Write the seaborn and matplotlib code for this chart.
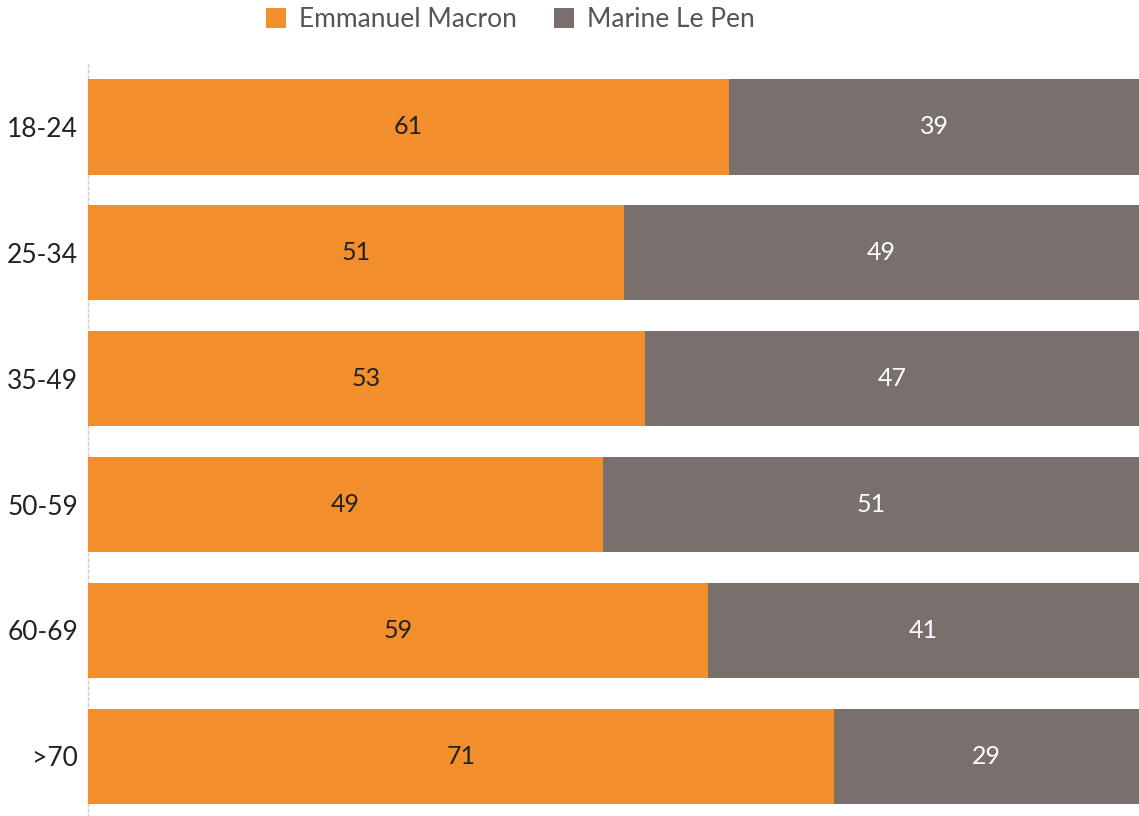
import matplotlib
matplotlib.use("Agg")
import matplotlib.pyplot as plt
import seaborn as sns
import pandas as pd
from matplotlib.patches import Patch

age_groups = ["18-24", "25-34", "35-49", "50-59", "60-69", ">70"]
macron = [61, 51, 53, 49, 59, 71]
le_pen = [39, 49, 47, 51, 41, 29]
series_names = ["Emmanuel Macron", "Marine Le Pen"]

ORANGE = "#F28E2B"
GRAY = "#79706E"

sns.set_theme(style="white")
plt.rcParams["font.family"] = ["Lato", "DejaVu Sans"]

df = pd.DataFrame({"age": age_groups, "macron": macron, "le_pen": le_pen})
df["total"] = df["macron"] + df["le_pen"]

fig = plt.figure(figsize=(11.39, 8.16), dpi=100)
ax = fig.add_axes([88 / 1139, -0.004, 1 - 88 / 1139, 1 - 64 / 816 + 0.004])

sns.barplot(data=df, y="age", x="total", color=GRAY, saturation=1,
            width=0.756, ax=ax, orient="h", linewidth=0, edgecolor="none")
sns.barplot(data=df, y="age", x="macron", color=ORANGE, saturation=1,
            width=0.756, ax=ax, orient="h", linewidth=0, edgecolor="none")

ax.bar_label(ax.containers[1], labels=[str(v) for v in macron],
             label_type="center", fontsize=18, color="#222222")
for i, (m, l) in enumerate(zip(macron, le_pen)):
    ax.text(m + l / 2, i, str(l), ha="center", va="center",
            fontsize=18, color="white")

ax.set_xlim(0, 100)
ax.set_ylim(5.5, -0.5)
ax.set_xlabel("")
ax.set_ylabel("")
ax.set_xticks([])
ax.tick_params(axis="y", labelsize=19, colors="#222222", length=0, pad=7)
for s in ["top", "right", "bottom"]:
    ax.spines[s].set_visible(False)
ax.spines["left"].set_color("#cccccc")
ax.spines["left"].set_linestyle((0, (2, 2)))
ax.spines["left"].set_linewidth(1)
ax.spines["left"].set_zorder(0)

handles = [Patch(facecolor=ORANGE, edgecolor="none"),
           Patch(facecolor=GRAY, edgecolor="none")]
fig.legend(handles, series_names, loc="center", bbox_to_anchor=(0.448, 0.976),
           ncol=2, frameon=False, fontsize=19, handlelength=0.75,
           handleheight=0.75, handletextpad=0.5, columnspacing=1.4,
           labelcolor="#555555")

fig.savefig("out.png", dpi=100)
